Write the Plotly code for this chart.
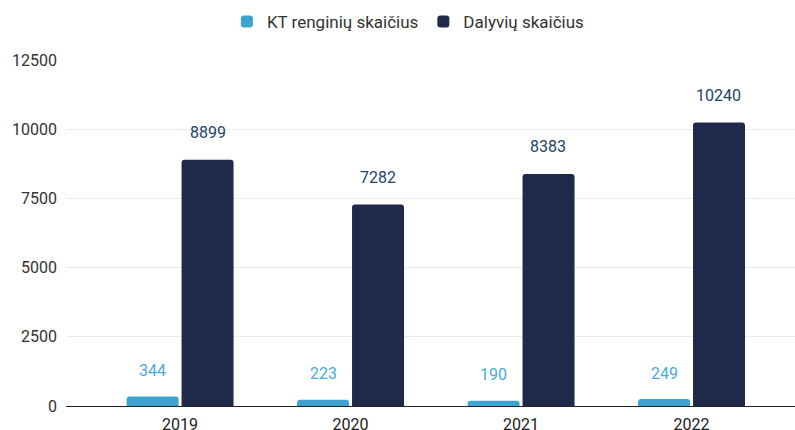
import plotly.graph_objects as go

years = ["2019", "2020", "2021", "2022"]
renginiai = [344, 223, 190, 249]
dalyviai = [8899, 7282, 8383, 10240]
series_names = ["KT renginių skaičius", "Dalyvių skaičius"]
y_ticks = [0, 2500, 5000, 7500, 10000, 12500]

light = "#3fa3d2"
dark = "#1f2a4b"
light_text = "#4aaad9"
dark_text = "#22436b"
font = "Roboto"

fig = go.Figure()
fig.add_trace(go.Bar(x=years, y=renginiai, name=series_names[0], marker_color=light,
                     width=0.305, offset=-0.3135, marker_line_width=0))
fig.add_trace(go.Bar(x=years, y=dalyviai, name=series_names[1], marker_color=dark,
                     width=0.305, offset=0.0088, marker_line_width=0))

for i, y in enumerate(years):
    fig.add_annotation(x=i - 0.161, y=renginiai[i], text=str(renginiai[i]), showarrow=False,
                       xref="x", yref="y", yshift=26, yanchor="middle",
                       font=dict(family=font, size=16, color=light_text))
    fig.add_annotation(x=i + 0.161, y=dalyviai[i], text=str(dalyviai[i]), showarrow=False,
                       xref="x", yref="y", yshift=27, yanchor="middle",
                       font=dict(family=font, size=16, color=dark_text))

fig.update_layout(
    width=795, height=430,
    margin=dict(l=66, r=0, t=60, b=24, autoexpand=False),
    paper_bgcolor="white", plot_bgcolor="white",
    font=dict(family=font, size=16, color="#333333"),
    barcornerradius=3,
    showlegend=True,
    legend=dict(orientation="h", x=0.469, xanchor="center", y=1.11, yanchor="middle",
                font=dict(family=font, size=17, color="#333333"),
                itemsizing="constant"),
    xaxis=dict(type="category", range=[-0.669, 3.607], autorange=False, showgrid=False,
               showline=False, ticks="", automargin=False, ticklabelstandoff=7,
               tickfont=dict(size=16, color="#222222")),
    yaxis=dict(range=[0, 12500], autorange=False, tickvals=y_ticks, tickformat="d",
               showgrid=True, gridcolor="#ebebeb", automargin=False,
               gridwidth=1, zeroline=True, zerolinecolor="#222222", zerolinewidth=1,
               showline=False, ticks="", ticklabelstandoff=8,
               tickfont=dict(size=16, color="#333333")),
)

fig.write_html("out.html", config={"displayModeBar": False},
               post_script="document.body.style.margin='0';")
